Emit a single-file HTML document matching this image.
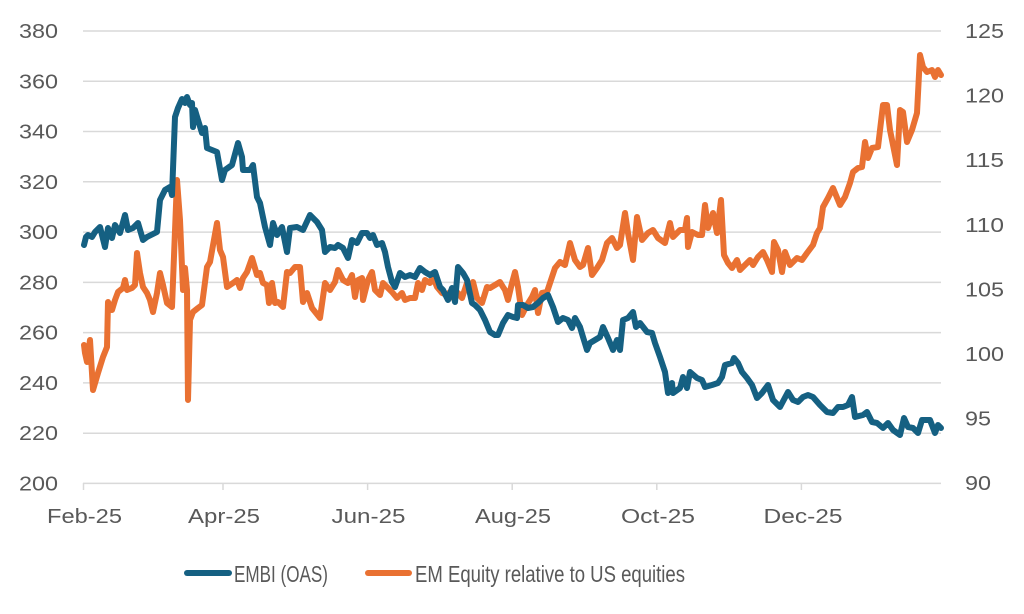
<!DOCTYPE html>
<html>
<head>
<meta charset="utf-8">
<style>
  html,body{margin:0;padding:0;background:#fff;}
  svg{display:block;}
  text{font-family:"Liberation Sans",sans-serif;fill:#595959;}
</style>
</head>
<body>
<svg width="1024" height="614" viewBox="0 0 1024 614" xmlns="http://www.w3.org/2000/svg">
  <rect width="1024" height="614" fill="#fff"/>
  <!-- gridlines -->
  <g stroke="#d9d9d9" stroke-width="1.5">
    <line x1="83" y1="31" x2="941" y2="31"/>
    <line x1="83" y1="81.3" x2="941" y2="81.3"/>
    <line x1="83" y1="131.5" x2="941" y2="131.5"/>
    <line x1="83" y1="181.8" x2="941" y2="181.8"/>
    <line x1="83" y1="232.1" x2="941" y2="232.1"/>
    <line x1="83" y1="282.4" x2="941" y2="282.4"/>
    <line x1="83" y1="332.6" x2="941" y2="332.6"/>
    <line x1="83" y1="382.9" x2="941" y2="382.9"/>
    <line x1="83" y1="433.2" x2="941" y2="433.2"/>
    <line x1="83" y1="483.4" x2="941" y2="483.4"/>
    <line x1="83.5" y1="483" x2="83.5" y2="490"/>
    <line x1="223" y1="483" x2="223" y2="490"/>
    <line x1="367.6" y1="483" x2="367.6" y2="490"/>
    <line x1="512.2" y1="483" x2="512.2" y2="490"/>
    <line x1="656.8" y1="483" x2="656.8" y2="490"/>
    <line x1="801.4" y1="483" x2="801.4" y2="490"/>
  </g>
  <!-- left axis labels -->
  <g font-size="20" text-anchor="end">
    <text x="58" y="38" textLength="39" lengthAdjust="spacingAndGlyphs">380</text>
    <text x="58" y="88.3" textLength="39" lengthAdjust="spacingAndGlyphs">360</text>
    <text x="58" y="138.5" textLength="39" lengthAdjust="spacingAndGlyphs">340</text>
    <text x="58" y="188.8" textLength="39" lengthAdjust="spacingAndGlyphs">320</text>
    <text x="58" y="239.1" textLength="39" lengthAdjust="spacingAndGlyphs">300</text>
    <text x="58" y="289.4" textLength="39" lengthAdjust="spacingAndGlyphs">280</text>
    <text x="58" y="339.6" textLength="39" lengthAdjust="spacingAndGlyphs">260</text>
    <text x="58" y="389.9" textLength="39" lengthAdjust="spacingAndGlyphs">240</text>
    <text x="58" y="440.2" textLength="39" lengthAdjust="spacingAndGlyphs">220</text>
    <text x="58" y="490.4" textLength="39" lengthAdjust="spacingAndGlyphs">200</text>
  </g>
  <!-- right axis labels -->
  <g font-size="20">
    <text x="965" y="38" textLength="39" lengthAdjust="spacingAndGlyphs">125</text>
    <text x="965" y="102.6" textLength="39" lengthAdjust="spacingAndGlyphs">120</text>
    <text x="965" y="167.2" textLength="39" lengthAdjust="spacingAndGlyphs">115</text>
    <text x="965" y="231.8" textLength="39" lengthAdjust="spacingAndGlyphs">110</text>
    <text x="965" y="296.4" textLength="39" lengthAdjust="spacingAndGlyphs">105</text>
    <text x="965" y="361" textLength="39" lengthAdjust="spacingAndGlyphs">100</text>
    <text x="965" y="425.6" textLength="26" lengthAdjust="spacingAndGlyphs">95</text>
    <text x="965" y="490.2" textLength="26" lengthAdjust="spacingAndGlyphs">90</text>
  </g>
  <!-- x labels -->
  <g font-size="20" text-anchor="middle">
    <text x="84.5" y="523" textLength="75" lengthAdjust="spacingAndGlyphs">Feb-25</text>
    <text x="224" y="523" textLength="72" lengthAdjust="spacingAndGlyphs">Apr-25</text>
    <text x="368.5" y="523" textLength="74" lengthAdjust="spacingAndGlyphs">Jun-25</text>
    <text x="513" y="523" textLength="76" lengthAdjust="spacingAndGlyphs">Aug-25</text>
    <text x="658" y="523" textLength="74" lengthAdjust="spacingAndGlyphs">Oct-25</text>
    <text x="803" y="523" textLength="79" lengthAdjust="spacingAndGlyphs">Dec-25</text>
  </g>
  <!-- EM equity series -->
  <polyline fill="none" stroke="#E97132" stroke-width="6" stroke-linejoin="round" stroke-linecap="round"
    points="84,345 85,353 87,362 90,340 93,390 98,373 103,357 107,347 108,302 112,310 115,300 118,292 123,288 125,280 127,290 132,288 135,285 137,253 140,273 143,287 147,293 150,300 153,312 157,293 160,273 163,285 167,303 172,307 177,180 180,220 183,290 185,268 187,290 188,400 190,320 193,312 198,308 202,305 207,267 210,262 217,223 220,250 223,257 227,287 233,283 237,280 240,288 243,278 247,272 252,258 257,275 260,273 263,283 267,285 269,303 272,283 275,303 278,302 283,307 287,272 290,273 295,267 300,267 303,302 307,293 312,308 320,318 325,283 330,290 335,282 338,270 343,280 348,283 352,275 355,297 358,280 362,278 363,300 368,280 372,272 375,290 380,295 383,283 387,287 392,292 397,298 402,293 405,300 410,298 415,298 418,283 422,290 425,280 430,283 433,277 437,287 442,293 447,295 450,292 453,298 458,293 462,298 467,283 470,290 473,282 477,298 482,303 487,287 490,288 495,285 500,282 503,287 505,290 508,300 512,283 515,272 518,287 522,315 527,305 532,297 535,290 538,313 542,293 547,292 552,277 555,268 560,262 565,265 570,243 575,260 580,267 583,265 588,248 592,275 597,268 602,260 607,243 612,238 617,248 620,245 625,213 628,233 633,260 637,217 642,240 648,233 653,230 658,238 665,243 670,223 673,237 680,230 685,230 687,218 688,247 692,232 698,235 702,235 705,205 708,228 713,213 717,233 721,200 724,255 728,263 732,268 737,260 740,270 747,263 750,260 753,265 758,257 763,252 767,260 772,272 774,242 778,250 782,272 785,252 790,265 797,258 802,260 807,253 813,245 817,233 820,228 823,207 828,198 833,188 840,205 845,197 850,183 853,172 858,168 862,167 865,142 868,158 872,148 878,147 883,105 887,105 890,130 897,165 900,110 903,112 907,142 912,130 917,113 920,55 923,67 927,72 932,70 935,77 938,70 941,75"/>
  <!-- EMBI series -->
  <polyline fill="none" stroke="#156082" stroke-width="6" stroke-linejoin="round" stroke-linecap="round"
    points="84,245 86,237 88,235 92,237 95,232 100,227 105,247 108,228 112,238 115,225 120,233 125,215 128,230 133,228 138,223 143,240 147,237 157,232 160,200 165,190 170,187 172,195 175,117 178,108 182,99 185,103 187,97 190,105 192,103 193,127 195,110 198,120 202,133 205,128 207,148 212,150 217,152 222,180 225,170 232,165 238,143 242,157 243,170 250,170 253,165 257,197 260,203 265,227 270,245 273,223 277,235 282,227 287,252 290,228 297,227 303,230 310,215 317,222 322,230 325,252 330,247 335,248 338,245 343,248 348,258 352,240 357,243 362,233 367,233 370,238 373,235 377,245 382,243 385,252 388,267 392,282 395,287 400,273 405,277 410,275 415,277 420,268 425,272 430,275 435,272 440,287 443,290 448,300 452,288 455,302 458,267 463,273 467,280 472,303 475,305 480,310 485,320 490,332 495,335 498,335 503,323 508,315 513,317 517,318 518,305 523,305 528,308 533,307 538,303 543,298 548,295 553,307 558,322 563,318 568,320 572,328 575,318 580,327 583,337 587,350 590,343 595,340 600,337 603,327 608,338 613,350 617,340 620,350 623,320 628,318 633,312 636,327 640,323 647,332 652,333 655,343 660,357 665,372 668,393 672,383 673,393 680,388 683,377 687,388 690,372 697,378 702,380 705,387 712,385 718,383 722,377 725,365 732,363 734,358 738,363 742,372 747,378 752,385 757,398 762,393 768,385 773,400 780,407 788,392 793,400 798,402 803,397 808,395 813,397 820,405 827,412 833,413 838,407 843,407 848,405 852,397 855,417 863,415 867,412 872,422 877,423 883,428 888,423 893,430 900,435 904,418 908,427 913,428 918,433 922,420 930,420 935,433 938,425 941,428"/>
  <!-- legend -->
  <line x1="187" y1="573" x2="229" y2="573" stroke="#156082" stroke-width="6" stroke-linecap="round"/>
  <text x="234" y="582" font-size="23" textLength="94" lengthAdjust="spacingAndGlyphs">EMBI (OAS)</text>
  <line x1="368" y1="573" x2="409" y2="573" stroke="#E97132" stroke-width="6" stroke-linecap="round"/>
  <text x="415" y="582" font-size="23" textLength="270" lengthAdjust="spacingAndGlyphs">EM Equity relative to US equities</text>
</svg>
</body>
</html>
